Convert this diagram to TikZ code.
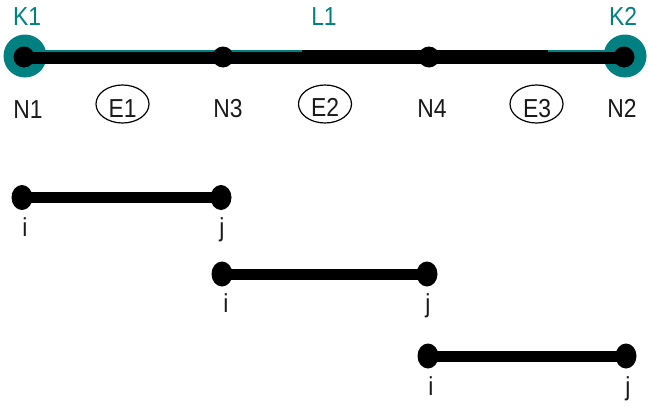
\documentclass[tikz,border=0pt]{standalone}
\usepackage{fontspec}
\setmainfont{Liberation Sans}[FakeStretch=0.88]
\usetikzlibrary{shapes.geometric}
\definecolor{kteal}{RGB}{0,128,128}
\definecolor{ink}{RGB}{25,25,25}
\begin{document}
\begin{tikzpicture}[x=1pt,y=-1pt,
  lbl/.style={inner sep=0pt,anchor=base,text=ink,font=\fontsize{26}{30}\selectfont},
  klbl/.style={lbl,text=kteal},
  elem/.style={draw=black,ellipse,minimum width=53pt,minimum height=38pt,inner sep=0pt,line width=1.2pt},
  support/.style={circle,fill=kteal,minimum size=43pt,inner sep=0pt},
  knot/.style={circle,fill=black,minimum size=21pt,inner sep=0pt},
  eknot/.style={ellipse,fill=black,minimum width=21pt,minimum height=25pt,inner sep=0pt},
  bar/.style={line width=12pt,black},
  sbar/.style={line width=11pt,black}]
\useasboundingbox (0,0) rectangle (648,407);

% supports and the line L1
\node[support] (k1) at (25,56) {};
\node[support] (k2) at (625,56) {};
\coordinate (t1) at (25,51);
\coordinate (t2) at (625,51);
\draw[kteal,line width=1.6pt] (t1) -- (t2);

% global beam N1 - N3 - N4 - N2
\coordinate (g1) at (24,57.5);
\coordinate (g2) at (625,57.5);
\coordinate (m1) at (302,56);
\coordinate (m2) at (548,56);
\draw[bar] (g1) -- (g2);
\draw[bar] (m1) -- (m2);
\node[knot] (n1) at (24,57) {};
\node[knot] (n3) at (223,57) {};
\node[knot] (n4) at (429,57) {};
\node[knot] (n2) at (624,57) {};

\node[klbl] (lk1) at (27,25) {K1};
\node[klbl] (ll1) at (324,25) {L1};
\node[klbl] (lk2) at (623,25) {K2};

\node[lbl] (ln1) at (28,118) {N1};
\node[lbl] (ln3) at (228,117) {N3};
\node[lbl] (ln4) at (432,117) {N4};
\node[lbl] (ln2) at (622,117) {N2};

\node[elem] (e1) at (122.5,104) {};
\node[elem] (e2) at (325,104) {};
\node[elem] (e3) at (536.5,104) {};
\node[lbl] (te1) at (122.5,117) {E1};
\node[lbl] (te2) at (325,116) {E2};
\node[lbl] (te3) at (537,117) {E3};

% single elements with local nodes i and j
\node[eknot] (a1) at (22,197.5) {};
\node[eknot] (b1) at (221,197.5) {};
\draw[sbar] (a1.center) -- (b1.center);
\node[lbl] (ia) at (25,236.5) {i};
\node[lbl] (ja) at (222,236.5) {j};

\node[eknot] (a2) at (222,274) {};
\node[eknot] (b2) at (427,274) {};
\draw[sbar] (a2.center) -- (b2.center);
\node[lbl] (ib) at (226,312) {i};
\node[lbl] (jb) at (428,312) {j};

\node[eknot] (a3) at (428,356) {};
\node[eknot] (b3) at (626,356) {};
\draw[sbar] (a3.center) -- (b3.center);
\node[lbl] (ic) at (431,395) {i};
\node[lbl] (jc) at (628,395) {j};
\end{tikzpicture}
\end{document}
